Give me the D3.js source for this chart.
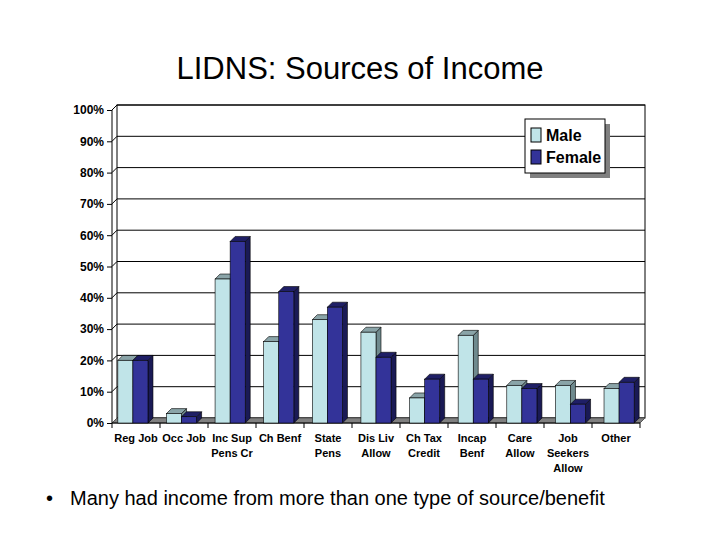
<!DOCTYPE html>
<html><head><meta charset="utf-8">
<script src="https://cdn.jsdelivr.net/npm/d3@7"></script>
<style>body{margin:0;background:#fff;font-family:"Liberation Sans",Arial,sans-serif}</style>
</head><body><div id="chart"></div>
<script>
const categories = [["Reg Job"],["Occ Job"],["Inc Sup","Pens Cr"],["Ch Benf"],["State","Pens"],["Dis Liv","Allow"],["Ch Tax","Credit"],["Incap","Benf"],["Care","Allow"],["Job","Seekers","Allow"],["Other"]];
const male = [20, 3, 46, 26, 33, 29, 8, 28, 12, 12, 11];
const female = [20, 2, 58, 42, 37, 21, 14, 14, 11, 6, 13];
const yTicks = [0,10,20,30,40,50,60,70,80,90,100];

const W = 720, H = 540, dx = 5, dy = 5;
const svg = d3.select("#chart").append("svg").attr("width", W).attr("height", H);
svg.append("text").attr("x", 360).attr("y", 79).attr("text-anchor", "middle")
  .attr("font-size", 31).text("LIDNS: Sources of Income");

const x0 = 112, x1 = 640, yTop = 110, yBot = 423;
const x = d3.scaleBand().domain(d3.range(categories.length)).range([x0, x1]).paddingInner(0.38).paddingOuter(0.12);
const y = d3.scaleLinear().domain([0, 100]).range([yBot, yTop]);

// back wall + grid
const g = svg.append("g");
g.append("rect").attr("x", x0 + dx).attr("y", yTop - dy).attr("width", x1 - x0).attr("height", yBot - yTop)
  .attr("fill", "#fff").attr("stroke", "#000");
g.selectAll(".grid").data(yTicks).join("line")
  .attr("x1", x0 + dx).attr("x2", x1 + dx).attr("y1", d => y(d) - dy).attr("y2", d => y(d) - dy)
  .attr("stroke", "#000");
g.selectAll(".diag").data(yTicks).join("line")
  .attr("x1", x0).attr("x2", x0 + dx).attr("y1", d => y(d)).attr("y2", d => y(d) - dy).attr("stroke", "#000");
// floor
g.append("path").attr("d", `M${x0},${yBot}L${x0+dx},${yBot-dy}L${x1+dx},${yBot-dy}L${x1},${yBot}Z`)
  .attr("fill", "#808080").attr("stroke", "#555");
// left axis
g.append("line").attr("x1", x0).attr("x2", x0).attr("y1", yTop).attr("y2", yBot).attr("stroke", "#000");
const yAxis = svg.append("g").attr("transform", `translate(${x0},0)`)
  .call(d3.axisLeft(y).tickValues(yTicks).tickSize(5).tickFormat(d => d + "%"));
yAxis.select(".domain").remove();
yAxis.selectAll("text").attr("font-size", 12).attr("font-weight", "bold").attr("font-family", "'Liberation Sans', Arial").attr("fill", "#000");
// bottom axis
const xAxis = svg.append("g").attr("transform", `translate(0,${yBot})`);
xAxis.append("line").attr("x1", x0).attr("x2", x1).attr("stroke", "#000");
xAxis.selectAll(".tk").data(d3.range(categories.length + 1)).join("line")
  .attr("x1", i => x0 + i * (x1 - x0) / categories.length).attr("x2", i => x0 + i * (x1 - x0) / categories.length)
  .attr("y1", 0).attr("y2", 5).attr("stroke", "#000");
xAxis.selectAll(".lab").data(categories).join("text")
  .attr("text-anchor", "middle").attr("font-size", 11).attr("font-weight", "bold")
  .attr("transform", (d, i) => `translate(${x0 + (i + 0.5) * (x1 - x0) / categories.length},19)`)
  .selectAll("tspan").data(d => d).join("tspan").attr("x", 0).attr("dy", (d, i) => i ? 15 : 0).text(d => d);

const bw = x.bandwidth() / 2;
function bar3d(sel, xs, v, front, top, side) {
  const yv = y(v);
  sel.append("path").attr("d", `M${xs+bw},${yv}L${xs+bw+dx},${yv-dy}L${xs+bw+dx},${yBot-dy}L${xs+bw},${yBot}Z`)
    .attr("fill", side).attr("stroke", "#000").attr("stroke-width", 0.6);
  sel.append("path").attr("d", `M${xs},${yv}L${xs+dx},${yv-dy}L${xs+bw+dx},${yv-dy}L${xs+bw},${yv}Z`)
    .attr("fill", top).attr("stroke", "#000").attr("stroke-width", 0.6);
  sel.append("rect").attr("x", xs).attr("y", yv).attr("width", bw).attr("height", yBot - yv)
    .attr("fill", front).attr("stroke", "#000").attr("stroke-width", 0.6);
}
const bars = svg.append("g");
categories.forEach((c, i) => {
  bar3d(bars, x(i), male[i], "#c0e4e8", "#8aa4a8", "#6f8a8e");
  bar3d(bars, x(i) + bw, female[i], "#333399", "#1f1f66", "#1a1a55");
});

// legend
const lg = svg.append("g").attr("transform", "translate(525,119)");
lg.append("rect").attr("x", 5).attr("y", 5).attr("width", 80).attr("height", 54).attr("fill", "#808080");
lg.append("rect").attr("width", 80).attr("height", 54).attr("fill", "#fff").attr("stroke", "#000");
[["Male", "#c0e4e8"], ["Female", "#333399"]].forEach((d, i) => {
  lg.append("rect").attr("x", 6).attr("y", 9 + i * 22).attr("width", 10).attr("height", 14).attr("fill", d[1]).attr("stroke", "#000");
  lg.append("text").attr("x", 21).attr("y", 22 + i * 22).attr("font-size", 16).attr("font-weight", "bold").text(d[0]);
});

svg.append("text").attr("x", 46).attr("y", 505).attr("font-size", 20).text("•");
svg.append("text").attr("x", 70).attr("y", 505).attr("font-size", 20).text("Many had income from more than one type of source/benefit");
</script></body></html>
